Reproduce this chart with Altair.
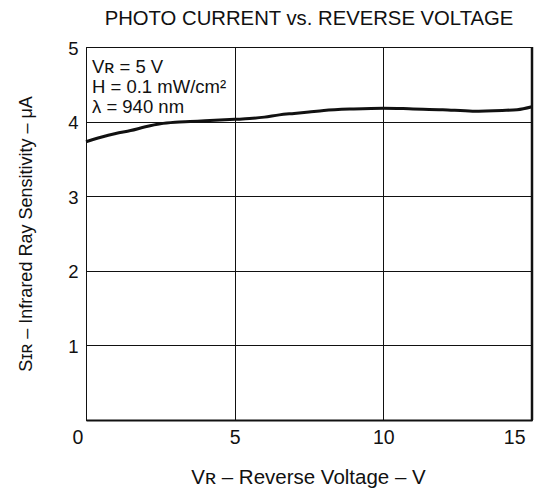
import altair as alt
import pandas as pd

# Data
voltage = [0, 0.5, 1.0, 1.5, 2.0, 2.5, 3.0, 3.5, 4.0, 5.0, 5.5, 6.0, 6.5, 7.0, 7.5,
           8.0, 9.0, 10.0, 11.0, 12.0, 13.0, 14.0, 14.5, 15.0]
sensitivity = [3.73, 3.79, 3.84, 3.88, 3.93, 3.97, 3.99, 4.00, 4.01, 4.03, 4.04, 4.06,
               4.09, 4.11, 4.13, 4.15, 4.17, 4.18, 4.17, 4.16, 4.14, 4.15, 4.16, 4.20]
x_ticks = [0, 5, 10, 15]
y_ticks = [1, 2, 3, 4, 5]
annotation = ["Vʀ = 5 V", "H = 0.1 mW/cm²", "λ = 940 nm"]

TITLE = "PHOTO CURRENT vs. REVERSE VOLTAGE"
X_TITLE = "Vʀ – Reverse Voltage – V"
Y_TITLE = "Sɪʀ – Infrared Ray Sensitivity – μA"
FONT = "Liberation Sans"
INK = "#111111"

df = pd.DataFrame({"V": voltage, "S": sensitivity})

W, H = 446, 373

x_scale = alt.Scale(domain=[0, 15], nice=False, zero=False)
y_scale = alt.Scale(domain=[0, 5], nice=False, zero=False)

x_axis = alt.Axis(
    values=x_ticks, title=X_TITLE, format="d",
    labelFont=FONT, labelFontSize=19.5, labelColor=INK,
    labelBaseline="alphabetic", labelPadding=23,
    labelOffset={"expr": "datum.value == 0 ? -14 : (datum.value == 15 ? -7 : 0)"},
    ticks=False, tickSize=0,
    domainColor=INK, domainWidth=2,
    grid=True, gridColor=INK, gridWidth=1, gridOpacity=1,
    titleFont=FONT, titleFontSize=20.5, titleFontWeight="normal", titleColor=INK,
    titleX=W / 2 - 1, titleY=63, titleBaseline="alphabetic", titleAlign="center",
)
y_axis = alt.Axis(
    values=y_ticks, title=Y_TITLE, format="d",
    labelFont=FONT, labelFontSize=18.5, labelColor=INK,
    labelBaseline="middle", labelPadding=8, labelOffset=1,
    ticks=False, tickSize=0,
    domainColor=INK, domainWidth=1,
    grid=True, gridColor=INK, gridWidth=1, gridOpacity=1,
    titleFont=FONT, titleFontSize=18, titleFontWeight="normal", titleColor=INK,
    titleAngle=270, titleX=-55, titleY=H / 2, titleBaseline="alphabetic", titleAlign="center",
)

curve = alt.Chart(df).mark_line(
    color=INK, strokeWidth=3, interpolate="monotone"
).encode(
    x=alt.X("V:Q", scale=x_scale, axis=x_axis),
    y=alt.Y("S:Q", scale=y_scale, axis=y_axis),
)

right_edge = alt.Chart(alt.Data(values=[{}])).mark_rule(
    color=INK, strokeWidth=2.5
).encode(
    x=alt.datum(15, scale=x_scale),
    y=alt.value(0), y2=alt.value(H),
)

note = alt.Chart(alt.Data(values=[{}])).mark_text(
    align="left", baseline="alphabetic", font=FONT, fontSize=18.5,
    lineHeight=20, color=INK
).encode(
    x=alt.value(6), y=alt.value(26), text=alt.value(annotation),
)

title = alt.Chart(alt.Data(values=[{}])).mark_text(
    align="center", baseline="alphabetic", font=FONT, fontSize=20.3, color=INK
).encode(
    x=alt.value(W / 2), y=alt.value(-22), text=alt.value(TITLE),
)

chart = alt.layer(curve, right_edge, note, title).properties(
    width=W, height=H,
    autosize=alt.AutoSizeParams(type="none"),
    padding={"left": 78, "top": 39, "right": 4, "bottom": 69},
).configure_view(stroke=INK, strokeWidth=1)

chart.save("out.html", embed_options={"renderer": "svg", "actions": False})
